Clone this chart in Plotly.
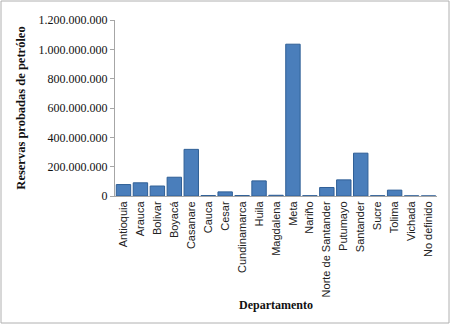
import plotly.graph_objects as go

departamentos = ["Antioquia", "Arauca", "Bolivar", "Boyacá", "Casanare", "Cauca", "Cesar",
                 "Cundinamarca", "Huila", "Magdalena", "Meta", "Nariño", "Norte de Santander",
                 "Putumayo", "Santander", "Sucre", "Tolima", "Vichada", "No definido"]
reservas = [78e6, 90e6, 68e6, 128e6, 318e6, 3e6, 28e6, 3e6, 103e6, 5e6, 1035e6, 2e6,
            58e6, 110e6, 292e6, 2e6, 40e6, 1e6, 0.5e6]
y_ticks = [0, 200e6, 400e6, 600e6, 800e6, 1000e6, 1200e6]

fig = go.Figure()
fig.add_trace(go.Bar(
    x=departamentos, y=reservas,
    marker=dict(color="#4A7EBB", line=dict(color="#2F5F96", width=1)),
))

W, H = 451, 325
ml, mr, mt, mb = 115, 14, 20, 129
pw, ph = W - ml - mr, H - mt - mb

def px(xp):
    return (xp - ml) / pw

def py(yp):
    return (H - mb - yp) / ph

fig.add_shape(type="rect", xref="paper", yref="paper",
              x0=px(1), x1=px(449), y0=py(323), y1=py(1),
              line=dict(color="#B0B0B0", width=1), fillcolor="rgba(0,0,0,0)", layer="below")

fig.update_layout(
    width=W, height=H,
    margin=dict(l=ml, r=mr, t=mt, b=mb),
    paper_bgcolor="white", plot_bgcolor="white",
    separators=",.",
    bargap=0.15,
    showlegend=False,
    xaxis=dict(
        tickangle=-90, tickfont=dict(family="Liberation Sans Narrow, Liberation Sans", size=11, color="#222"),
        showline=True, linecolor="#A6A6A6", linewidth=1, ticks="",
        title=dict(text="<b>Departamento</b>", font=dict(family="Liberation Serif", size=12, color="#111"),
                   standoff=4),
    ),
    yaxis=dict(
        range=[0, 1200e6], tickvals=y_ticks, tickformat=",d",
        tickfont=dict(family="Liberation Serif", size=12, color="#111"),
        showline=True, linecolor="#A6A6A6", linewidth=1, ticks="outside", ticklen=4, tickcolor="#A6A6A6",
        showgrid=False, zeroline=False,
        title=dict(text="<b>Reservas probadas de petróleo</b>",
                   font=dict(family="Liberation Serif", size=12.5, color="#111"), standoff=10),
    ),
)

fig.write_html("out.html")
